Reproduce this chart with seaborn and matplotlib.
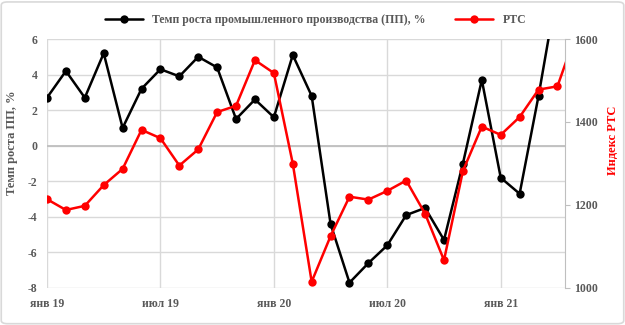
import numpy as np
import pandas as pd
import matplotlib
matplotlib.use("Agg")
import matplotlib.pyplot as plt
import seaborn as sns
from matplotlib.patches import FancyBboxPatch

# ---- data ----
months = ["янв 19", "фев 19", "мар 19", "апр 19", "май 19", "июн 19",
          "июл 19", "авг 19", "сен 19", "окт 19", "ноя 19", "дек 19",
          "янв 20", "фев 20", "мар 20", "апр 20", "май 20", "июн 20",
          "июл 20", "авг 20", "сен 20", "окт 20", "ноя 20", "дек 20",
          "янв 21", "фев 21", "мар 21", "апр 21", "май 21"]
ip_growth = [2.7, 4.2, 2.7, 5.2, 1.0, 3.2, 4.3, 3.9, 5.0, 4.4, 1.5, 2.6,
             1.6, 5.1, 2.8, -4.4, -7.7, -6.6, -5.6, -3.9, -3.5, -5.3,
             -1.0, 3.7, -1.8, -2.7, 2.8, 8.9, np.nan]
rts = [1214, 1188, 1198, 1248, 1287, 1381, 1361, 1295, 1334, 1424, 1439, 1549,
       1518, 1300, 1015, 1125, 1220, 1213, 1234, 1259, 1179, 1067, 1282, 1389,
       1369, 1412, 1478, 1486, 1615]
series_names = ["Темп роста промышленного производства (ПП), %", "РТС"]
left_label = "Темп роста ПП, %"
right_label = "Индекс РТС"
left_ticks = [-8, -6, -4, -2, 0, 2, 4, 6]
right_ticks = [1000, 1200, 1400, 1600]

# ---- style ----
sns.set_style("white")
plt.rcParams["font.family"] = ["Liberation Serif", "DejaVu Serif"]
plt.rcParams["font.weight"] = "bold"
plt.rcParams["axes.unicode_minus"] = False
GRAY = "#595959"
GRID = "#d9d9d9"

df = pd.DataFrame({"t": np.arange(len(months)), "ip": ip_growth, "rts": rts})

fig = plt.figure(figsize=(6.25, 3.25), dpi=100)
ax = fig.add_axes([47 / 625, 1 - 288 / 325, (565 - 47) / 625, 249 / 325])

sns.lineplot(data=df, x="t", y="ip", ax=ax, color="black", marker="o",
             markersize=6, markeredgewidth=0, linewidth=1.8, legend=False)
ax.axhline(0, color="#bfbfbf", lw=1.3, zorder=1)

ax.set_ylim(-8, 6)
ax.set_yticks(left_ticks)
ax.set_xlim(0, 27.4)
tick_pos = df["t"].iloc[::6].tolist()
ax.set_xticks(tick_pos)
ax.set_xticklabels(months[::6])
ax.grid(True, color=GRID, lw=1)
ax.set_axisbelow(True)
for s in ax.spines.values():
    s.set_visible(False)
ax.tick_params(axis="both", length=0, labelsize=8.5, labelcolor=GRAY)
ax.tick_params(axis="y", pad=7)
ax.tick_params(axis="x", pad=7)
ax.set_xlabel("")
ax.set_ylabel(left_label, color=GRAY, fontsize=9, fontweight="bold")
ax.yaxis.set_label_coords((18 - 47) / 518, (288 - 143) / 249)

ax2 = ax.twinx()
sns.lineplot(data=df, x="t", y="rts", ax=ax2, color="red", marker="o",
             markersize=6, markeredgewidth=0, linewidth=1.8, legend=False)
ax2.set_ylim(1000, 1600)
ax2.set_yticks(right_ticks)
ax2.set_xlim(0, 27.4)
for k, s in ax2.spines.items():
    s.set_visible(k == "right")
ax2.spines["right"].set_color("#bfbfbf")
ax2.tick_params(axis="y", length=3.5, color="#bfbfbf", labelsize=8.5,
                labelcolor=GRAY, pad=3)
ax2.set_ylabel(right_label, color="red", fontsize=9, fontweight="bold")
ax2.yaxis.set_label_coords((607 - 47) / 518, (288 - 140) / 249)

handles = [ax.get_lines()[0], ax2.get_lines()[0]]
fig.legend(handles, series_names, loc="upper center", bbox_to_anchor=(0.505, 0.99),
           ncol=2, frameon=False, handlelength=3.2, columnspacing=2.5,
           prop={"size": 8.5, "weight": "bold"}, labelcolor=GRAY)

fig.patches.append(FancyBboxPatch((0.002, 0.004), 0.996, 0.99,
                                  boxstyle="round,pad=0,rounding_size=0.01",
                                  transform=fig.transFigure, fill=False,
                                  edgecolor=GRID, lw=1.2))

fig.savefig("out.png", dpi=100)
